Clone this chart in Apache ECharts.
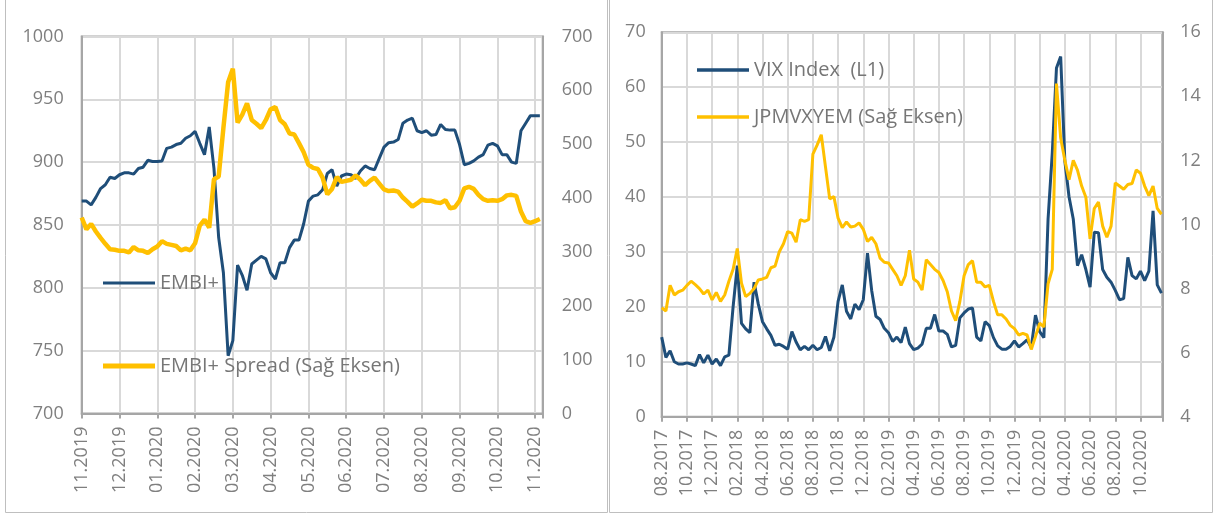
<!DOCTYPE html>
<html><head><meta charset="utf-8">
<script src="https://cdn.jsdelivr.net/npm/echarts@6/dist/echarts.min.js"></script>
<style>html,body{margin:0;padding:0;background:#fff;}#c{width:1215px;height:515px;}</style>
</head><body><div id="c"></div>
<script>
// ---------- Left panel data (points every ~1/8 month, labels every 8 points) ----------
const leftTickLabels = ['11.2019','12.2019','01.2020','02.2020','03.2020','04.2020','05.2020','06.2020','07.2020','08.2020','09.2020','10.2020','11.2020'];
const embiPlus = [869,869,866,872,879,882,888,887,890,891.5,891.5,890.5,895,896,901.5,900.5,900.5,901,911,912,
  914,915,919,921,924.5,915,906,928,895,840,812,746,758,818,810,798,819,822,825,823,
  812,807,820,820,832,838,838,851,869,873,874,878,891,894,881,889,890.5,890,887,893,
  897,895,894,903,912,915.5,916,918,931,933.5,935,925,923.5,925,921.5,922,930,926,925.5,925.5,
  914,898,899,901,904,906,913.5,915,913,906,906,900,899,925,931,937,937,937];
const embiSpread = [364,342,352,338,326,315,305,304,302,302,299,309,303,302,298,305,310,320,315,313,
  311,303,306,303,316,349,360,345,435,440,530,615,640,540,555,576,545,538,530,545,
  565,569,545,537,520,518,502,485,462,456,454,438,407,417,439,430,432,434,442,434,
  424,432,438,427,416,413,414,412,401,393,384,390,397,395,395,392,391,396,381,383,
  395,418,421,417,406,398,395,396,395,398,405,406,404,375,357,354,357,361];

// ---------- Right panel data (points every ~1/3 month, labels every 6 points) ----------
const rightTickLabels = ['08.2017','10.2017','12.2017','02.2018','04.2018','06.2018','08.2018','10.2018','12.2018','02.2019','04.2019','06.2019','08.2019','10.2019','12.2019','02.2020','04.2020','06.2020','08.2020','10.2020'];
const vixIndex = [14.5,10.8,12,10,9.6,9.6,9.8,9.6,9.3,11.3,9.8,11.2,9.6,10.5,9.3,10.9,11.2,20,27.5,17,
  16,15.3,24.5,20.5,17.3,16,14.8,13,13.2,12.8,12.3,15.5,13.6,12.2,12.8,12.2,13.0,12.2,12.6,14.6,
  12,14.5,21,24,19.2,17.8,20.5,19.5,21.3,29.8,23,18.3,17.7,16.1,15.3,13.7,14.5,13.5,16.3,13.3,
  12.2,12.5,13.2,16.1,16.1,18.6,15.6,15.6,15.0,12.7,13.0,18.0,18.9,19.6,19.8,14.5,13.8,17.3,16.6,14.4,
  12.9,12.3,12.3,12.8,13.8,12.7,13.3,14.0,12.6,18.5,15.5,14.4,36,48,63.5,65.6,46.5,40,36,27.5,
  29.5,26.8,23.6,33.6,33.5,26.8,25.4,24.5,23,21.3,21.5,29,25.7,25.1,26.5,24.8,26.5,37.5,24,22.5];
const jpmVxyEm = [7.4,7.3,8.1,7.8,7.9,7.95,8.1,8.23,8.12,8.0,7.83,7.95,7.65,7.88,7.6,7.8,8.23,8.6,9.25,8.17,
  7.75,7.85,8.0,8.27,8.3,8.35,8.65,8.7,9.15,9.4,9.78,9.73,9.45,10.15,10.1,10.15,12.2,12.48,12.8,11.8,
  10.8,10.87,10.2,9.9,10.08,9.92,9.95,10.05,9.85,9.47,9.6,9.4,8.95,8.82,8.8,8.6,8.4,8.1,8.4,9.2,
  8.3,8.2,7.95,8.9,8.75,8.6,8.5,8.25,7.9,7.3,7.0,7.6,8.4,8.75,8.87,8.2,8.2,8.05,8.1,7.6,
  7.18,7.18,7.05,6.85,6.75,6.55,6.6,6.55,6.1,6.5,6.92,6.8,8.15,8.6,14.4,12.7,12.0,11.4,12.0,11.7,
  11.2,10.85,9.55,10.5,10.7,9.95,9.6,9.95,11.3,11.2,11.1,11.25,11.28,11.7,11.6,11.2,10.9,11.2,10.5,10.32];

// ---------- styling ----------
const FONT = '"Open Sans","Noto Sans",sans-serif';
const LABEL = '#7f7f7f';
const GRIDC = '#d9d9d9';
const AXISC = '#a6a6a6';
const BLUE = '#1f4e79';
const GOLD = '#ffc000';

function xAxisDef(gridIndex, maxV, K, labels) {
  return {
    type: 'value', gridIndex: gridIndex, min: 0, max: maxV, interval: K,
    axisLine: {show: true, onZero: false, lineStyle: {color: AXISC, width: 2}},
    axisTick: {show: true, inside: false, length: 5, lineStyle: {color: AXISC, width: 2}},
    axisLabel: {
      rotate: 90, margin: 13, color: LABEL, fontFamily: FONT, fontSize: 18,
      formatter: function (v) {
        const k = Math.round(v / K);
        if (Math.abs(v - k * K) > 1e-6) return '';
        return labels[k] || '';
      }
    },
    splitLine: {show: true, lineStyle: {color: GRIDC, width: 2}}
  };
}
function yAxisDef(gridIndex, pos, mn, mx, iv, split, margin) {
  return {
    type: 'value', gridIndex: gridIndex, position: pos, min: mn, max: mx, interval: iv,
    axisLine: {show: true, lineStyle: {color: AXISC, width: 2}},
    axisTick: {show: false},
    axisLabel: {color: LABEL, fontFamily: FONT, fontSize: 18, margin: margin,
      formatter: function (v) { return String(v); }},
    splitLine: {show: split, lineStyle: {color: GRIDC, width: 2}}
  };
}
function legendDef(name, left, top, h) {
  return {
    data: [name], left: left, top: top, icon: 'rect', itemWidth: 52, itemHeight: h,
    itemGap: 0, padding: 0,
    textStyle: {color: '#767676', fontFamily: FONT, fontSize: 20}
  };
}
function pairs(arr) { return arr.map(function (v, i) { return [i, v]; }); }

const chart = echarts.init(document.getElementById('c'), null, {renderer: 'canvas'});
chart.setOption({
  animation: false,
  backgroundColor: '#ffffff',
  graphic: [
    {type: 'rect', shape: {x: 5.5, y: -5, width: 602, height: 517.5}, style: {fill: 'none', stroke: '#bfbfbf', lineWidth: 1}, silent: true},
    {type: 'rect', shape: {x: 609.5, y: -5, width: 603, height: 517.5}, style: {fill: 'none', stroke: '#bfbfbf', lineWidth: 1}, silent: true}
  ],
  grid: [
    {left: 81.7, top: 36.5, width: 461, height: 377, show: true, borderColor: AXISC, borderWidth: 2, containLabel: false},
    {left: 661.7, top: 32.3, width: 500.6, height: 384.4, show: true, borderColor: AXISC, borderWidth: 2, containLabel: false}
  ],
  xAxis: [
    xAxisDef(0, 97.6, 8, leftTickLabels),
    xAxisDef(1, 119.2, 6, rightTickLabels)
  ],
  yAxis: [
    yAxisDef(0, 'left', 700, 1000, 50, true, 18),
    yAxisDef(0, 'right', 0, 700, 100, false, 19),
    yAxisDef(1, 'left', 0, 70, 10, true, 16),
    yAxisDef(1, 'right', 4, 16, 2, false, 18)
  ],
  legend: [
    legendDef('EMBI+', 103, 273, 3),
    legendDef('EMBI+ Spread (Sağ Eksen)', 103, 356, 5),
    legendDef('VIX Index  (L1)', 697, 60, 3.5),
    legendDef('JPMVXYEM (Sağ Eksen)', 697, 107, 3.5)
  ],
  series: [
    {type: 'line', name: 'EMBI+', xAxisIndex: 0, yAxisIndex: 0, data: pairs(embiPlus),
      showSymbol: false, symbol: 'none', lineStyle: {color: BLUE, width: 3}, itemStyle: {color: BLUE}, z: 3},
    {type: 'line', name: 'EMBI+ Spread (Sağ Eksen)', xAxisIndex: 0, yAxisIndex: 1, data: pairs(embiSpread),
      showSymbol: false, symbol: 'none', lineStyle: {color: GOLD, width: 4.5}, itemStyle: {color: GOLD}, z: 4},
    {type: 'line', name: 'VIX Index  (L1)', xAxisIndex: 1, yAxisIndex: 2, data: pairs(vixIndex),
      showSymbol: false, symbol: 'none', lineStyle: {color: BLUE, width: 3}, itemStyle: {color: BLUE}, z: 3},
    {type: 'line', name: 'JPMVXYEM (Sağ Eksen)', xAxisIndex: 1, yAxisIndex: 3, data: pairs(jpmVxyEm),
      showSymbol: false, symbol: 'none', lineStyle: {color: GOLD, width: 3}, itemStyle: {color: GOLD}, z: 4}
  ]
});
</script>
</body></html>
